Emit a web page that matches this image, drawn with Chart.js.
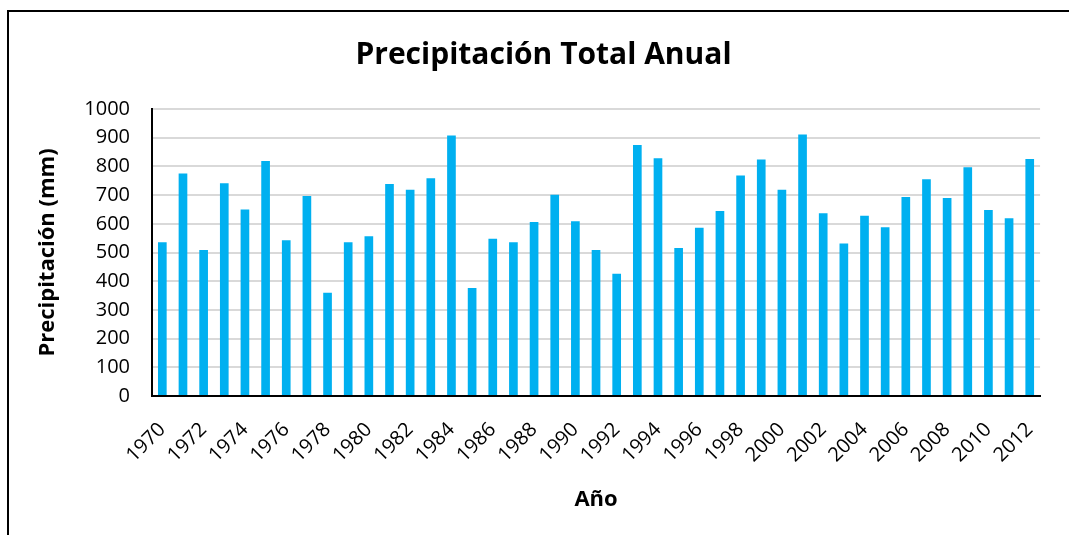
<!DOCTYPE html>
<html>
<head>
<meta charset="utf-8">
<script src="https://cdn.jsdelivr.net/npm/chart.js@4"></script>
<style>
  body { margin: 0; background: #fff; }
  #frame { position: absolute; left: 7px; top: 10px; width: 1080px; height: 540px;
           border-left: 2px solid #000; border-top: 2px solid #000; }
  #chart { position: absolute; left: 0; top: 0; }
</style>
</head>
<body>
<div id="frame"></div>
<canvas id="chart" width="1069" height="535"></canvas>
<script>
var years = [];
for (var y = 1970; y <= 2012; y++) years.push(String(y));

var precipitation = [
    536, 775, 509, 741, 650, 819, 543, 697, 360, 536,
    557, 739, 719, 759, 908, 376, 548, 536, 606, 701,
    609, 509, 426, 875, 828, 516, 586, 645, 768, 824,
    719, 911, 637, 531, 628, 588, 693, 755, 690, 797,
    648, 619, 826
];

var yTicks = [0, 100, 200, 300, 400, 500, 600, 700, 800, 900, 1000];

var tickFont = { family: "'Open Sans', sans-serif", size: 20 };
var labelFont = { family: "'Open Sans', sans-serif", size: 22, weight: "bold" };

new Chart("chart", {
    type: "bar",
    data: {
        labels: years,
        datasets: [{
            data: precipitation,
            backgroundColor: "#00b0f0",
            barPercentage: 0.42,
            categoryPercentage: 1.0
        }]
    },
    options: {
        responsive: false,
        animation: false,
        // left padding pushes the title centre to the right, like the original
        layout: { padding: { left: 44, right: 26, top: 0, bottom: 0 } },
        plugins: {
            legend: { display: false },
            tooltip: { enabled: false },
            title: {
                display: true,
                text: "Precipitación Total Anual",
                color: "#000",
                font: { family: "'Open Sans', sans-serif", size: 30, weight: "bold" },
                padding: { top: 37, bottom: 36 }
            }
        },
        scales: {
            x: {
                grid: { display: false, drawTicks: false },
                border: { color: "#000", width: 2 },
                ticks: {
                    color: "#000",
                    font: tickFont,
                    autoSkip: false,
                    minRotation: 45,
                    maxRotation: 45,
                    padding: 22,
                    callback: function (value, index) {
                        return index % 2 === 0 ? years[index] : "";
                    }
                },
                title: {
                    display: true,
                    text: "Año",
                    color: "#000",
                    font: labelFont,
                    padding: { top: 0, bottom: 22 }
                },
                afterFit: function (scale) { scale.height = 139; }
            },
            y: {
                min: 0,
                max: 1000,
                afterBuildTicks: function (scale) {
                    scale.ticks = yTicks.map(function (v) { return { value: v }; });
                },
                grid: { color: "#d9d9d9", lineWidth: 2, drawTicks: false },
                border: { color: "#000", width: 2 },
                ticks: {
                    color: "#000",
                    font: tickFont,
                    padding: 22,
                    callback: function (value) { return String(value); }
                },
                title: {
                    display: true,
                    text: "Precipitación (mm)",
                    color: "#000",
                    font: labelFont,
                    padding: { top: -9, bottom: 0 }
                },
                afterFit: function (scale) { scale.width = 108; }
            }
        }
    }
});
</script>
</body>
</html>
